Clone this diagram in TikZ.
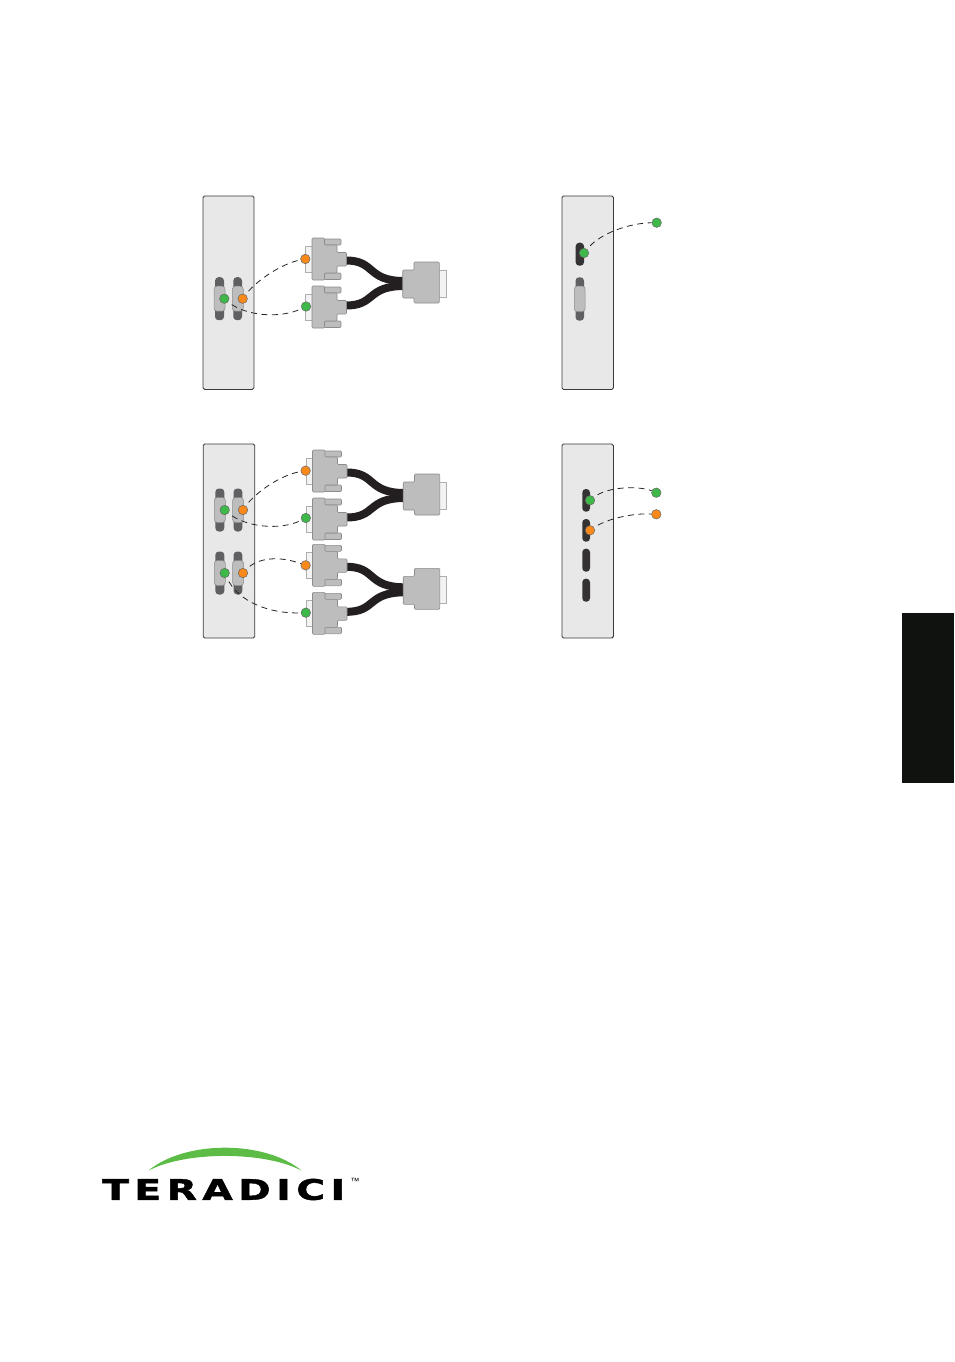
\documentclass[tikz,border=0pt]{standalone}
\usepackage{fontspec}
\usepackage{graphicx}
\newfontfamily\logofont[LetterSpace=14,BoldFeatures={FakeBold=1.4}]{DejaVu Sans}
\newfontfamily\tmfont{Liberation Sans}
\definecolor{panelfill}{HTML}{E8E8E8}
\definecolor{panelline}{HTML}{3A3A3A}
\definecolor{shellfill}{HTML}{BDBDBD}
\definecolor{shellline}{HTML}{8C8C8C}
\definecolor{slotgrey}{HTML}{606062}
\definecolor{slotdark}{HTML}{343233}
\definecolor{cablecol}{HTML}{231F20}
\definecolor{platefill}{HTML}{F3F3F3}
\definecolor{dotgreen}{HTML}{3FB84A}
\definecolor{dotorange}{HTML}{F8891A}
\definecolor{tabcol}{HTML}{10120F}
\definecolor{arcgreen}{HTML}{5CBC45}
\tikzset{
 panel/.style={draw=panelline,fill=panelfill,line width=0.9pt,rounded corners=1.6pt},
 slotgreyst/.style={fill=slotgrey,rounded corners=3.5pt},
 slotdarkst/.style={fill=slotdark,rounded corners=3.5pt},
 shell/.style={fill=shellfill,draw=shellline,line width=0.5pt,rounded corners=3pt},
 conn/.style={fill=shellfill,draw=shellline,line width=0.6pt,rounded corners=1pt},
 plate/.style={fill=platefill,draw=shellline!70,line width=0.4pt},
 cable/.style={draw=cablecol,line width=8pt},
 dotbase/.style={circle,minimum size=9.5pt,inner sep=0pt,draw=black!60,line width=0.5pt},
 gdot/.style={dotbase,fill=dotgreen},
 odot/.style={dotbase,fill=dotorange},
 wire/.style={draw=black!85,line width=0.8pt,dash pattern=on 6pt off 4.5pt,dash phase=6pt},
 dsubconn/.pic={
  \path[plate] (-6.7,-13) rectangle (0.5,13);
  \path[conn] (12,-20) rectangle (29,-14);
  \path[conn] (12,14) rectangle (29,20.5);
  \path[conn] (0,-21) -- (12.5,-21) -- (12.5,-14) -- (25,-14) -- (25,-6.5) -- (34.5,-6.5) -- (34.5,7) -- (25,7) -- (25,14) -- (12.5,14) -- (12.5,21) -- (0,21) -- cycle;
 },
 ycable/.pic={
  \path[cable] (345,260.5) .. controls (376,260) and (366,281) .. (404,281);
  \path[cable] (345,305.5) .. controls (376,306) and (366,286) .. (404,286);
  \path pic at (312,259) {dsubconn};
  \path pic at (312,307) {dsubconn};
  \path[plate] (436,270) rectangle (446,297);
  \path[conn] (402.7,270) -- (414,270) -- (414,262) -- (439.3,262) -- (439.3,303) -- (414,303) -- (414,298) -- (402.7,298) -- cycle;
 },
 dualport/.pic={
  \path[slotgreyst] (215,-21.5) rectangle (224,21.5);
  \path[slotgreyst] (233.3,-21.5) rectangle (242,21.5);
  \path[shell] (214,-12.5) rectangle (225,12.5);
  \path[shell] (232.3,-12.5) rectangle (243.3,12.5);
 }
}
\begin{document}
\begin{tikzpicture}[x=1pt,y=-1pt]
\useasboundingbox (0,0) rectangle (954,1362);
% panels
\node[panel,minimum width=51pt,minimum height=193.5pt,inner sep=0pt] (p1) at (228.5,292.7) {};
\node[panel,minimum width=51.5pt,minimum height=194pt,inner sep=0pt] (p2) at (229,541) {};
\node[panel,minimum width=51.5pt,minimum height=193.5pt,inner sep=0pt] (p3) at (587.7,292.7) {};
\node[panel,minimum width=51.5pt,minimum height=194pt,inner sep=0pt] (p4) at (587.7,541) {};
% ports
\path pic at (0,298.7) {dualport};
\path pic at (0.3,510) {dualport};
\path pic at (0.3,573) {dualport};
\path[slotdarkst] (575.7,242.7) rectangle (584,265.7);
\path[slotgreyst] (575.5,277.3) rectangle (584,320.7);
\path[shell] (574.3,286) rectangle (585,311.7);
\path[slotdarkst] (582.3,489) rectangle (590,511.7);
\path[slotdarkst] (582.3,519) rectangle (590,541.7);
\path[slotdarkst] (582.3,548.7) rectangle (590,571.7);
\path[slotdarkst] (582.3,578.7) rectangle (590,601.7);
% cables
\path pic at (0,0) {ycable};
\path pic at (0.5,212) {ycable};
\path pic at (0.5,306.3) {ycable};
% dots
\node[gdot] (ga) at (224.3,298.7) {};
\node[odot] (oa) at (242.7,298.7) {};
\node[odot] (ob) at (305.3,259) {};
\node[gdot] (gb) at (306,306.5) {};
\node[gdot] (gc) at (224.7,510) {};
\node[odot] (oc) at (243,510) {};
\node[gdot] (ge) at (224.7,573) {};
\node[odot] (oe) at (243,573) {};
\node[odot] (od) at (305.6,470.7) {};
\node[gdot] (gd) at (305.8,518) {};
\node[odot] (of) at (305.6,565.3) {};
\node[gdot] (gf) at (305.8,612.7) {};
\node[gdot] (gg) at (584,253) {};
\node[gdot] (gh) at (656.7,222.7) {};
\node[gdot] (gi) at (590,500.3) {};
\node[gdot] (gj) at (656.3,492.7) {};
\node[odot] (oi) at (590,530.3) {};
\node[odot] (oj) at (656.3,514.3) {};
% wires
\path[wire] (oa) .. controls (255,282) and (280,264) .. (ob);
\path[wire] (ga) .. controls (245,316) and (280,319) .. (gb);
\path[wire] (oc) .. controls (255,493) and (280,475) .. (od);
\path[wire] (gc) .. controls (245,527) and (280,531) .. (gd);
\path[wire] (oe) .. controls (258,557) and (280,556) .. (of);
\path[wire] (ge) .. controls (238,602) and (270,614) .. (gf);
\path[wire] (gg) .. controls (600,233) and (630,223) .. (gh);
\path[wire] (gi) .. controls (608,486) and (640,486) .. (gj);
\path[wire] (oi) .. controls (608,518) and (635,513) .. (oj);
% side tab
\fill[tabcol] (902,613) rectangle (954,783);
% logo
\fill[arcgreen] (148.3,1170.7) .. controls (185,1140) and (265,1140) .. (301.7,1170.7) .. controls (265,1151) and (185,1151) .. cycle;
\node[inner sep=0pt,anchor=west] (logo) at (102,1189.5) {\resizebox{243pt}{21pt}{\logofont\bfseries TERADICI}};
\node[inner sep=0pt,anchor=center] (tm) at (355,1181) {\tmfont\fontsize{9}{10}\selectfont ™};
\end{tikzpicture}
\end{document}
